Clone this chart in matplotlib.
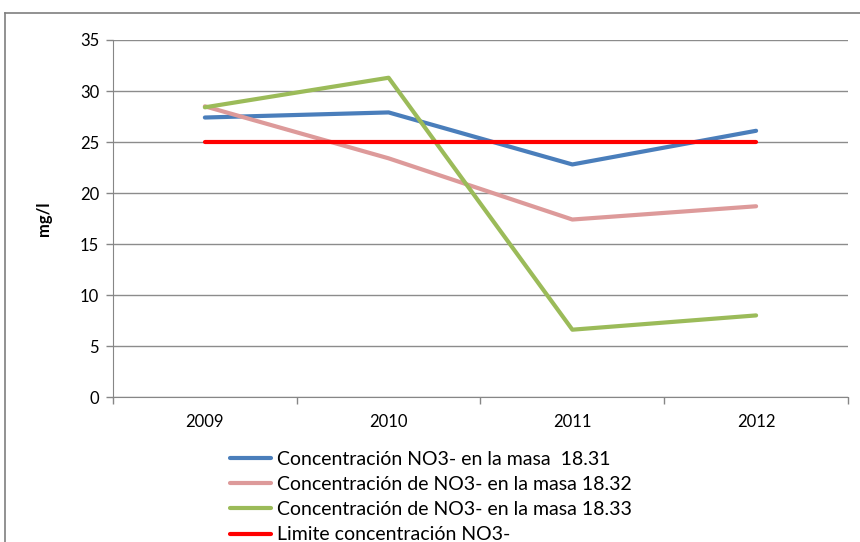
import matplotlib.pyplot as plt

plt.rcParams["font.family"] = ["Lato", "DejaVu Sans"]

years = ["2009", "2010", "2011", "2012"]
masa_1831 = [27.4, 27.9, 22.8, 26.1]
masa_1832 = [28.5, 23.4, 17.4, 18.7]
masa_1833 = [28.4, 31.3, 6.6, 8.0]
limite = [25, 25, 25, 25]

labels = [
    "Concentración NO3- en la masa  18.31",
    "Concentración de NO3- en la masa 18.32",
    "Concentración de NO3- en la masa 18.33",
    "Limite concentración NO3-",
]
colors = ["#4a7ebb", "#dd9a9a", "#9bbb59", "#ff0000"]

fig = plt.figure(figsize=(8.6, 5.42), dpi=100)

# borde del gráfico (solo arriba e izquierda visibles en el recorte)
frame = fig.add_axes([5 / 860, 0.0, 1.0, 1 - 13 / 542], zorder=-1)
frame.set_xticks([])
frame.set_yticks([])
frame.patch.set_alpha(0)
for side in ["right", "bottom"]:
    frame.spines[side].set_visible(False)
for side in ["top", "left"]:
    frame.spines[side].set_color("#7f7f7f")
    frame.spines[side].set_linewidth(1.2)

ax = fig.add_axes([0.1314, 0.2675, 0.8546, 0.6587])

x = list(range(len(years)))
for vals, lab, col in zip([masa_1831, masa_1832, masa_1833, limite], labels, colors):
    ax.plot(x, vals, color=col, linewidth=3, label=lab, solid_capstyle="round")

ax.set_xlim(-0.5, len(years) - 0.5)
ax.set_ylim(0, 35)
ax.set_yticks(range(0, 36, 5))
ax.set_xticks(x)
ax.set_xticklabels(years)
ax.set_xticks([i - 0.5 for i in range(len(years) + 1)], minor=True)
ax.tick_params(axis="x", which="major", length=0, pad=12, labelsize=12)
ax.tick_params(axis="x", which="minor", length=5, color="#868686", width=1)
ax.tick_params(axis="y", length=5, color="#868686", width=1, labelsize=12, pad=5)

ax.grid(axis="y", color="#8c8c8c", linewidth=1)
ax.set_axisbelow(True)
for side in ["top", "right"]:
    ax.spines[side].set_visible(False)
for side in ["left", "bottom"]:
    ax.spines[side].set_color("#868686")

ax.set_ylabel("mg/l", fontsize=12, fontweight="bold", labelpad=20)

fig.legend(loc="upper left", bbox_to_anchor=(0.267, 0.168), frameon=False,
           fontsize=14, handlelength=2.15, handletextpad=0.3,
           labelspacing=0.42, borderpad=0, borderaxespad=0)

fig.savefig("out.png", dpi=100)
